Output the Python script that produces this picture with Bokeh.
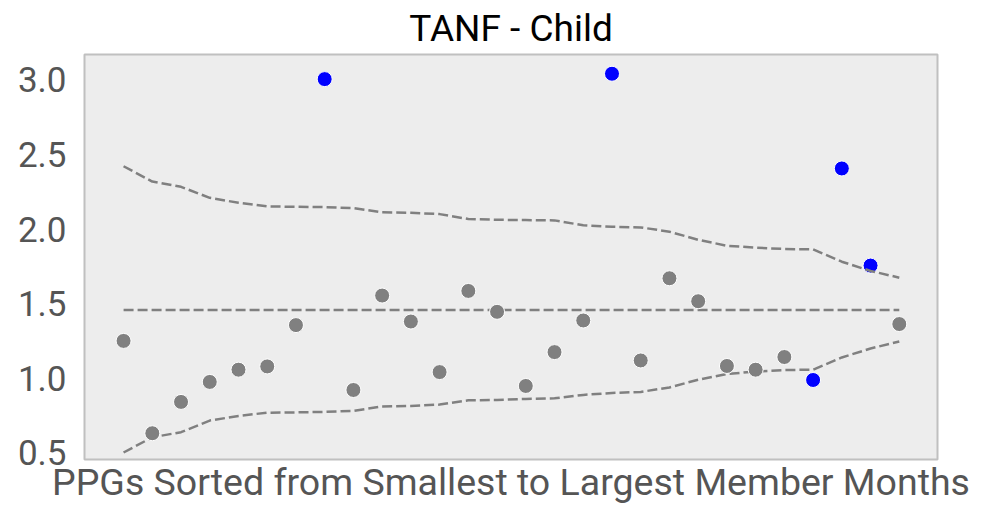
from bokeh.plotting import figure
from bokeh.models import Range1d, FixedTicker, PrintfTickFormatter
from bokeh.embed import file_html
from bokeh.resources import INLINE

# PPGs sorted from smallest to largest member months (position index)
ppg_position = list(range(28))
rate = [1.250, 0.631, 0.841, 0.975, 1.057, 1.079, 1.356, 3.005, 0.921, 1.554,
        1.380, 1.041, 1.585, 1.445, 0.948, 1.175, 1.387, 3.041, 1.119, 1.670,
        1.516, 1.082, 1.057, 1.142, 0.988, 2.406, 1.755, 1.363]
upper_limit = [2.421, 2.318, 2.283, 2.209, 2.176, 2.152, 2.149, 2.147, 2.140, 2.112,
               2.109, 2.100, 2.067, 2.062, 2.060, 2.058, 2.025, 2.015, 2.011, 1.982,
               1.928, 1.888, 1.875, 1.866, 1.864, 1.781, 1.719, 1.674]
lower_limit = [0.502, 0.604, 0.638, 0.716, 0.747, 0.769, 0.771, 0.774, 0.781, 0.811,
               0.814, 0.823, 0.852, 0.854, 0.861, 0.865, 0.888, 0.901, 0.908, 0.938,
               0.990, 1.028, 1.045, 1.055, 1.057, 1.139, 1.199, 1.246]
mean_rate = 1.458
y_ticks = [0.5, 1.0, 1.5, 2.0, 2.5, 3.0]

out_x, out_y, in_x, in_y = [], [], [], []
for x, r, u, l in zip(ppg_position, rate, upper_limit, lower_limit):
    if r > u or r < l:
        out_x.append(x); out_y.append(r)
    else:
        in_x.append(x); in_y.append(r)

FONT = "Roboto"
p = figure(width=977, height=506, output_backend="svg", toolbar_location=None,
           x_range=Range1d(-1.36, 28.33), y_range=Range1d(0.455, 3.17),
           min_border_left=84, min_border_right=40, min_border_top=53, min_border_bottom=47)
p.background_fill_color = "#ededed"
p.border_fill_color = "white"
p.outline_line_color = "#c0c0c0"
p.outline_line_width = 2
p.xgrid.visible = False
p.ygrid.visible = False

p.title.text = "TANF - Child"
p.title.align = "center"
p.title.text_font = FONT
p.title.text_font_size = "37px"
p.title.text_font_style = "normal"
p.title.text_color = "black"
p.title.standoff = 9
p.title.offset = 0

xa = p.xaxis[0]
xa.ticker = FixedTicker(ticks=[])
xa.axis_label = "PPGs Sorted from Smallest to Largest Member Months"
xa.axis_label_text_font = FONT
xa.axis_label_text_font_size = "37.5px"
xa.axis_label_text_font_style = "normal"
xa.axis_label_text_color = "#555555"
xa.axis_label_standoff = 0
xa.major_label_text_font_size = "0px"
xa.major_label_standoff = 0
xa.major_tick_out = 0
xa.major_tick_in = 0
xa.axis_line_color = None
xa.major_tick_line_color = None
xa.minor_tick_line_color = None

ya = p.yaxis[0]
ya.ticker = FixedTicker(ticks=y_ticks)
ya.formatter = PrintfTickFormatter(format="%.1f")
ya.major_label_text_font = FONT
ya.major_label_text_font_size = "35px"
ya.major_label_text_color = "#555555"
ya.major_label_standoff = 18
ya.axis_line_color = None
ya.major_tick_line_color = None
ya.minor_tick_line_color = None
ya.major_tick_out = 0
ya.major_tick_in = 0

p.scatter(out_x, out_y, size=15, fill_color="#0000ff", line_color="white", line_width=1)
p.line(ppg_position, upper_limit, line_color="#808080", line_width=2.5, line_dash="10 4")
p.line(ppg_position, lower_limit, line_color="#808080", line_width=2.5, line_dash="10 4")
p.line(ppg_position, [mean_rate] * len(ppg_position), line_color="#808080", line_width=2.5, line_dash="10 4")
p.scatter(in_x, in_y, size=15, fill_color="#808080", line_color="white", line_width=1)

open("out.html", "w").write(file_html(p, INLINE))
